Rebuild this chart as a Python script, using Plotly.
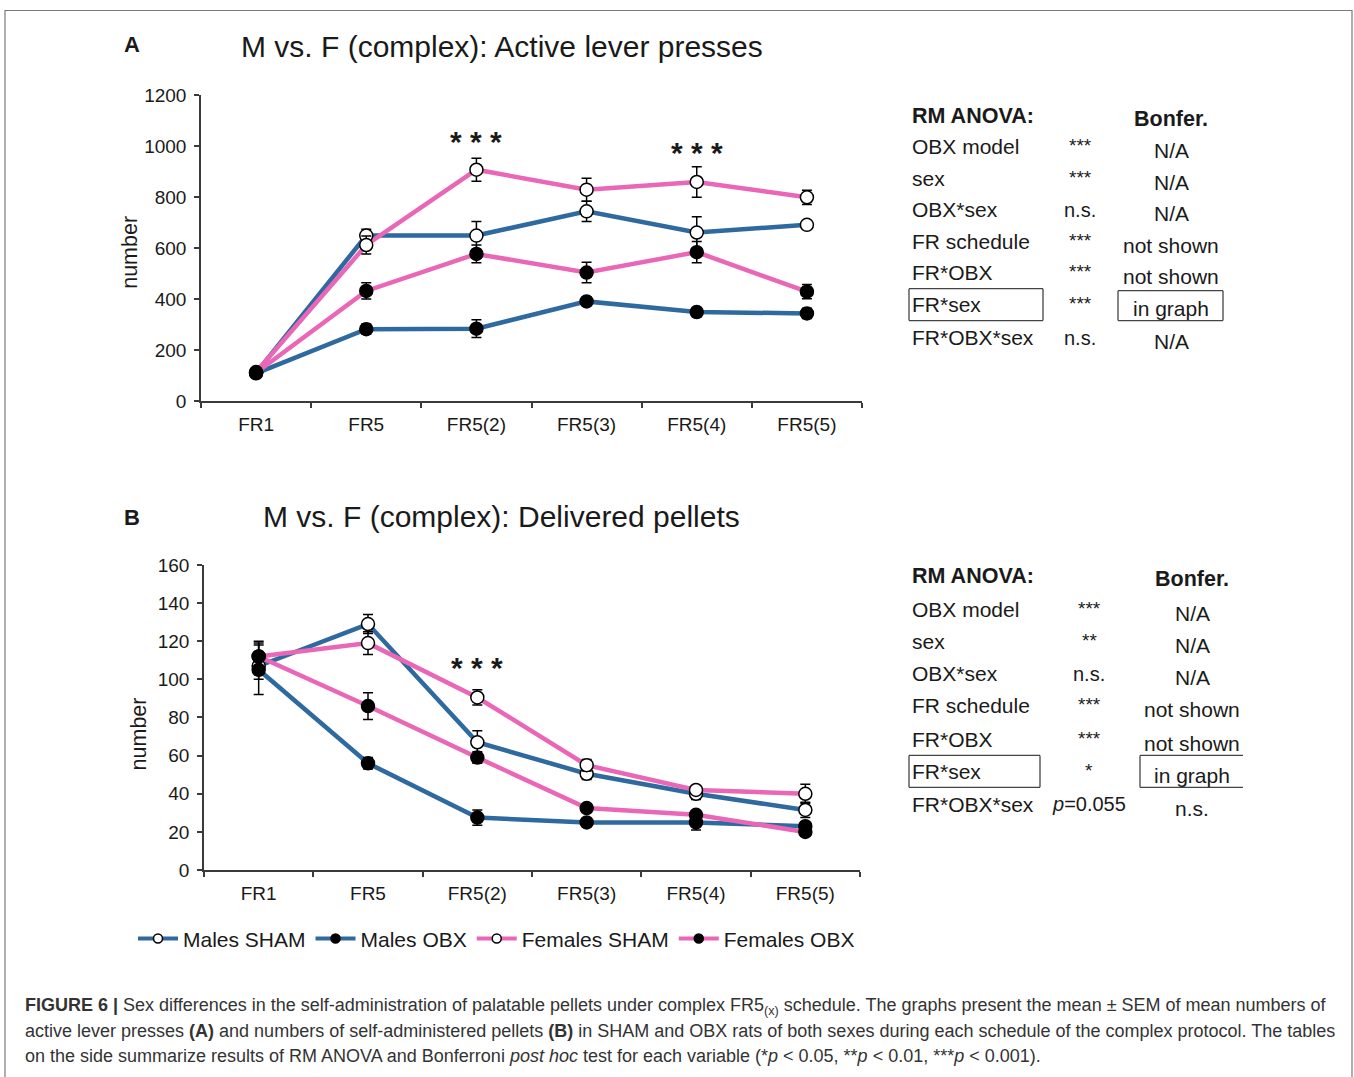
import plotly.graph_objects as go

W, H = 1354, 1077

# ---- data ----
categories = ["FR1", "FR5", "FR5(2)", "FR5(3)", "FR5(4)", "FR5(5)"]
series_names = ["Males SHAM", "Males OBX", "Females SHAM", "Females OBX"]

# Panel A: active lever presses (mean, SEM)
males_sham_A = [112, 650, 650, 745, 662, 692]
males_sham_A_err = [8, 25, 55, 40, 62, 15]
males_obx_A = [110, 283, 285, 392, 350, 345]
males_obx_A_err = [8, 20, 35, 15, 18, 20]
females_sham_A = [115, 613, 908, 830, 860, 800]
females_sham_A_err = [8, 35, 45, 45, 60, 28]
females_obx_A = [112, 433, 578, 505, 585, 430]
females_obx_A_err = [8, 32, 35, 40, 42, 28]

# Panel B: delivered pellets (mean, SEM)
males_sham_B = [107, 129, 67, 50.5, 40, 31.5]
males_sham_B_err = [7, 5, 6, 3, 3, 4]
males_obx_B = [105, 56, 27.5, 25, 25, 23]
males_obx_B_err = [13, 3, 4, 2, 4, 2]
females_sham_B = [112, 119, 90.5, 55, 42, 40]
females_sham_B_err = [7, 6, 4, 3, 2, 5]
females_obx_B = [112, 86, 59, 32.5, 29, 20]
females_obx_B_err = [8, 7, 3, 2, 2, 2]

# significance marks (Bonferroni, FR*sex)
stars_A = [("FR5(2)", 1020), ("FR5(4)", 975)]
stars_B = [("FR5(2)", 106)]

# ANOVA summary tables
table_terms = ["OBX model", "sex", "OBX*sex", "FR schedule", "FR*OBX", "FR*sex", "FR*OBX*sex"]
anova_A = ["***", "***", "n.s.", "***", "***", "***", "n.s."]
bonf_A = ["N/A", "N/A", "N/A", "not shown", "not shown", "in graph", "N/A"]
anova_B = ["***", "**", "n.s.", "***", "***", "*", "<i>p</i>=0.055"]
bonf_B = ["N/A", "N/A", "N/A", "not shown", "not shown", "in graph", "n.s."]

BLUE = "#2e699f"
PINK = "#ea66b6"
FONT = "Liberation Sans, Arial, sans-serif"
TXT = "#1a1a1a"

# vertical placement: the drawing area sits slightly inset on the page
TOP_OFF = 8.5
H_DRAW = 1059.0


def px(x):
    return x / W


def py(y):
    return 1 - (y - TOP_OFF) / H_DRAW


styles = [
    (BLUE, "white"),
    (BLUE, "black"),
    (PINK, "white"),
    (PINK, "black"),
]

panels = [
    ("x", "y", [males_sham_A, males_obx_A, females_sham_A, females_obx_A],
     [males_sham_A_err, males_obx_A_err, females_sham_A_err, females_obx_A_err]),
    ("x2", "y2", [males_sham_B, males_obx_B, females_sham_B, females_obx_B],
     [males_sham_B_err, males_obx_B_err, females_sham_B_err, females_obx_B_err]),
]

fig = go.Figure()

for xa, ya, vals, errs in panels:
    # lines first so every marker sits on top of all lines
    for (col, fill), v in zip(styles, vals):
        fig.add_trace(go.Scatter(
            x=categories, y=v, mode="lines", xaxis=xa, yaxis=ya,
            line=dict(color=col, width=4.5), showlegend=False, hoverinfo="skip"))
    for (col, fill), v, e in zip(styles, vals, errs):
        fig.add_trace(go.Scatter(
            x=categories, y=v, mode="markers", xaxis=xa, yaxis=ya,
            marker=dict(symbol="circle", size=13, color=fill,
                        line=dict(color="black", width=1.5)),
            error_y=dict(type="data", array=e, visible=True, color="black",
                         thickness=1.5, width=5),
            showlegend=False))

# legend entries
for name, (col, fill) in zip(series_names, styles):
    fig.add_trace(go.Scatter(
        x=[None], y=[None], mode="lines+markers", name=name,
        line=dict(color=col, width=4),
        marker=dict(symbol="circle", size=9, color=fill,
                    line=dict(color="black", width=1.5))))

axis_common = dict(
    showline=True, linecolor="#3a3a3a", linewidth=1.5, mirror=False,
    showgrid=False, zeroline=False,
    tickfont=dict(family=FONT, size=19, color=TXT),
    ticks="outside", tickcolor="#3a3a3a", ticklen=5, tickwidth=1.5,
)

fig.update_layout(
    width=W, height=H,
    margin=dict(l=0, r=0, t=0, b=0),
    paper_bgcolor="white", plot_bgcolor="white",
    font=dict(family=FONT, color=TXT),
    xaxis=dict(domain=[px(201), px(862)], anchor="y", type="category",
               categoryorder="array", categoryarray=categories,
               range=[-0.5, 5.5], tickson="boundaries",
               ticklabelstandoff=5, **axis_common),
    yaxis=dict(domain=[py(401), py(94)], anchor="x", range=[0, 1200],
               tickvals=[0, 200, 400, 600, 800, 1000, 1200],
               ticklabelstandoff=4, **axis_common),
    xaxis2=dict(domain=[px(204), px(860)], anchor="y2", type="category",
                categoryorder="array", categoryarray=categories,
                range=[-0.5, 5.5], tickson="boundaries",
                ticklabelstandoff=5, **axis_common),
    yaxis2=dict(domain=[py(871), py(565)], anchor="x2", range=[0, 160],
                tickvals=[0, 20, 40, 60, 80, 100, 120, 140, 160],
                ticklabelstandoff=4, **axis_common),
    legend=dict(orientation="h", x=px(133), y=py(940), xanchor="left",
                yanchor="middle", font=dict(family=FONT, size=21, color=TXT),
                itemwidth=40, bgcolor="rgba(0,0,0,0)", tracegroupgap=0),
    showlegend=True,
)

ann = []


def text(x, y, s, size=21, xanchor="left", bold=False, color=TXT, angle=0):
    ann.append(dict(xref="paper", yref="paper", x=px(x), y=py(y),
                    text=f"<b>{s}</b>" if bold else s, showarrow=False,
                    xanchor=xanchor, yanchor="middle", textangle=angle,
                    font=dict(family=FONT, size=size, color=color)))


# panel letters and titles
text(122, 43, "A", size=22, bold=True)
text(239, 45, "M vs. F (complex): Active lever presses", size=30)
text(122, 517, "B", size=22, bold=True)
text(261, 516, "M vs. F (complex): Delivered pellets", size=30)

# y-axis titles
text(130, 252, "number", size=21.5, xanchor="center", angle=-90)
text(139, 735, "number", size=21.5, xanchor="center", angle=-90)

# significance stars
for xa, ya, marks in (("x", "y", stars_A), ("x2", "y2", stars_B)):
    for cat, yv in marks:
        ann.append(dict(xref=xa, yref=ya, x=cat, y=yv, text="<b>* * *</b>",
                        showarrow=False, xanchor="center", yanchor="middle",
                        font=dict(family=FONT, size=30, color=TXT)))

shapes = []


def box(x0, y0, x1, y1, sides="lrtb"):
    segs = []
    if "l" in sides:
        segs.append((x0, y0, x0, y1))
    if "r" in sides:
        segs.append((x1, y0, x1, y1))
    if "t" in sides:
        segs.append((x0, y0, x1, y0))
    if "b" in sides:
        segs.append((x0, y1, x1, y1))
    for a, b, c, d in segs:
        shapes.append(dict(type="line", xref="paper", yref="paper",
                           x0=px(a), y0=py(b), x1=px(c), y1=py(d),
                           line=dict(color="#444", width=1.3)))


# ANOVA tables
def table(top, head2_x, col2_x, col3_x, anova, bonf, row_y, bonf_dy):
    text(910, top, "RM ANOVA:", size=21.5, bold=True)
    text(head2_x, top + 3, "Bonfer.", size=21.5, bold=True, xanchor="center")
    for i, (term, a, b) in enumerate(zip(table_terms, anova, bonf)):
        y = row_y[i]
        text(910, y, term, size=21)
        if a.startswith("*"):
            text(col2_x, y - 1, a, size=19, xanchor="center")
        else:
            text(col2_x, y, a, size=20, xanchor="center")
        text(col3_x, y + bonf_dy, b, size=21, xanchor="center")


rows_A = [145, 177, 209, 241, 272, 304, 337]
table(115, 1171, 1080, 1171, anova_A, bonf_A, rows_A, 4)
box(909, 288, 1043, 320)
box(1118, 290, 1223, 320)

rows_B = [610, 642, 674, 706, 740, 772, 805]
table(576, 1192, 1089, 1192, anova_B, bonf_B, rows_B, 4)
box(909, 756, 1040, 788)
box(1140, 756, 1243, 788, sides="ltb")

# outer frame
shapes.append(dict(type="rect", xref="paper", yref="paper",
                   x0=px(5), y0=-0.02, x1=px(1352), y1=py(9),
                   line=dict(color="#7a7a7a", width=1.2)))

# caption
CAP = "#333333"
cap_font = "Liberation Sans, Helvetica, Arial, sans-serif"
caption_lines = [
    "<b>FIGURE 6 |</b> Sex differences in the self-administration of palatable pellets under complex "
    "FR5<sub>(x)</sub> schedule. The graphs present the mean \u00b1 SEM of mean numbers of",
    "active lever presses <b>(A)</b> and numbers of self-administered pellets <b>(B)</b> in SHAM and OBX "
    "rats of both sexes during each schedule of the complex protocol. The tables",
    "on the side summarize results of RM ANOVA and Bonferroni <i>post hoc</i> test for each variable "
    "(*<i>p</i> &lt; 0.05, **<i>p</i> &lt; 0.01, ***<i>p</i> &lt; 0.001).",
]
for i, line in enumerate(caption_lines):
    ann.append(dict(xref="paper", yref="paper", x=px(23), y=py(1008 + 24.5 * i),
                    text=line, showarrow=False, xanchor="left", yanchor="middle",
                    font=dict(family=cap_font, size=18, color=CAP)))

fig.update_layout(annotations=ann, shapes=shapes)

fig.write_html("out.html")
